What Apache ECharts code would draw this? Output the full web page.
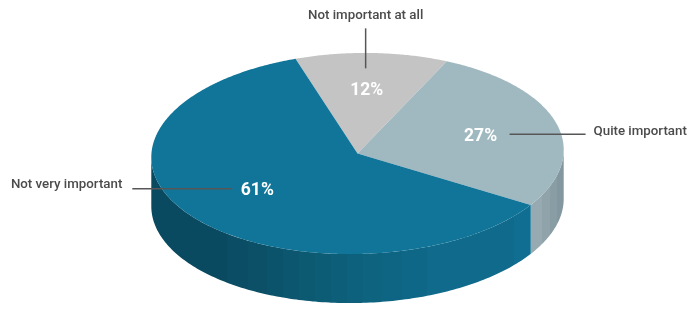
<!DOCTYPE html>
<html>
<head>
<meta charset="utf-8">
<style>html,body{margin:0;padding:0;background:#fff}#c{width:700px;height:317px}</style>
<script src="https://cdn.jsdelivr.net/npm/echarts@6/dist/echarts.min.js"></script>
</head>
<body>
<div id="c"></div>
<script>
var categories = ['Not important at all', 'Quite important', 'Not very important'];
var shares = [12, 27, 61];
var percentLabels = ['12%', '27%', '61%'];

var topColors = ['#c4c4c4', '#a0b9c0', '#107599'];
var cx = 357.5, cy = 153.5, rx = 206.2, ry = 100.5, depth = 49, tilt = 0.018;
var startAngle = -17.5;
var labelRadius = 0.62;
// label nudge, leader line relative to the percent label [x1,y1,x2,y2], caption offset, alignment
var leaders = [
  { nudge: [0, -1], line: [-1, -22, -1, -62], text: [-1, -75], align: 'center' },
  { nudge: [0, 0], line: [29, -2.5, 105, -2.5], text: [113, -5], align: 'left' },
  { nudge: [1.5, -1], line: [-25, -1.5, -125, -1.5], text: [-135, -6], align: 'right' }
];
// side shading: facet edges (screen x) and colours per slice
var facetEdges = [cx - rx, 227, 248, 267, 283, 299, 315, 331, 347, 363, 382, 402, 427, 514, 531, 542, 550, 557, cx + rx];
var facetColors = ['#0a4a61', '#0b4d65', '#0b5067', '#0b536b', '#0c566f', '#0c5972', '#0d5c76', '#0d5e79', '#0d617c', '#0e637f', '#0e6583', '#0e6786', '#0f6a8b', '#0f6e92', '#97a9b1', '#90a3ab', '#899da5', '#82979f'];

function px(a) { return cx + rx * Math.sin(a * Math.PI / 180); }
function py(a) { return cy - ry * Math.cos(a * Math.PI / 180) - tilt * rx * Math.sin(a * Math.PI / 180); }
function facetAngle(x) { return 180 - Math.asin(Math.max(-1, Math.min(1, (x - cx) / rx))) * 180 / Math.PI; }

var total = shares.reduce(function (s, v) { return s + v; }, 0);

function renderItem(params, api) {
  var i = params.dataIndex, before = 0;
  for (var k = 0; k < i; k++) before += shares[k];
  var value = api.value(0);
  var a0 = startAngle + before / total * 360;
  var a1 = a0 + value / total * 360;
  var children = [], a, pts, j;

  // side wall facets
  for (j = 0; j < facetColors.length; j++) {
    var fa = facetAngle(facetEdges[j]);      // larger angle (left)
    var fb = facetAngle(facetEdges[j + 1]);  // smaller angle (right)
    var lo = Math.max(a0, fb), hi = Math.min(a1, fa);
    if (hi <= lo) continue;
    pts = [];
    for (a = lo; a < hi; a += 1) pts.push([px(a), py(a)]);
    pts.push([px(hi), py(hi)]);
    for (a = hi; a > lo; a -= 1) pts.push([px(a), py(a) + depth]);
    pts.push([px(lo), py(lo) + depth]);
    children.push({ type: 'polygon', z2: 1, shape: { points: pts }, style: { fill: facetColors[j] } });
  }

  // top face
  pts = [[cx, cy]];
  for (a = a0; a < a1; a += 0.5) pts.push([px(a), py(a)]);
  pts.push([px(a1), py(a1)]);
  children.push({ type: 'polygon', z2: 2, shape: { points: pts }, style: { fill: topColors[i] } });

  // percent label and leader
  var mid = (a0 + a1) / 2, L = leaders[i];
  var lx = cx + labelRadius * rx * Math.sin(mid * Math.PI / 180) + L.nudge[0];
  var ly = cy - labelRadius * ry * Math.cos(mid * Math.PI / 180) + L.nudge[1];
  children.push({ type: 'line', z2: 5, shape: { x1: lx + L.line[0], y1: ly + L.line[1], x2: lx + L.line[2], y2: ly + L.line[3] },
    style: { stroke: '#565656', lineWidth: 1.5 } });
  children.push({ type: 'text', z2: 6, style: { x: lx, y: ly, text: percentLabels[i], fill: '#ffffff',
    font: 'bold 17.5px Roboto', align: 'center', verticalAlign: 'middle' } });
  children.push({ type: 'text', z2: 6, style: { x: lx + L.text[0], y: ly + L.text[1], text: categories[i], fill: '#4b4b4b',
    font: '500 13.3px Roboto', align: L.align, verticalAlign: 'middle' } });
  return { type: 'group', children: children };
}

var chart = echarts.init(document.getElementById('c'), null, { renderer: 'canvas' });
chart.setOption({
  animation: false,
  series: [{
    type: 'custom',
    coordinateSystem: 'none',
    renderItem: renderItem,
    data: shares.map(function (v, i) { return { name: categories[i], value: [v] }; })
  }]
});
</script>
</body>
</html>
